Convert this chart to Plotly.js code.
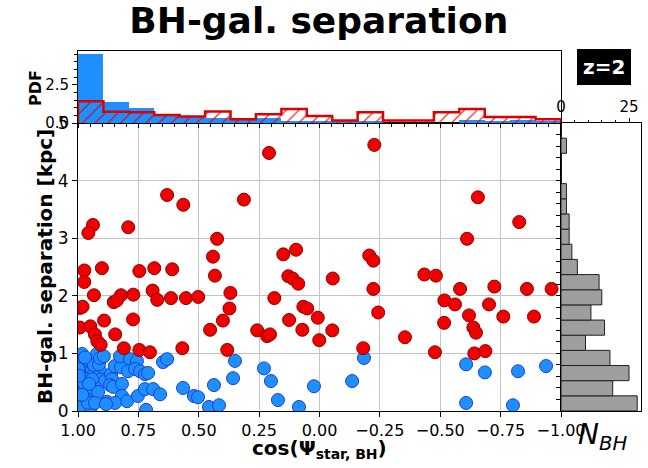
<!DOCTYPE html>
<html>
<head>
<meta charset="utf-8">
<script src="https://cdn.plot.ly/plotly-3.0.1.min.js"></script>
<style>html,body{margin:0;padding:0;background:#fff;}#chart{width:648px;height:468px;}</style>
</head>
<body>
<div id="chart"></div>
<script>
// ---- scatter data: cos(Psi) and BH-galaxy separation [kpc] ----
const redCos = [0.209,-0.227,0.631,0.564,0.313,-0.656,-0.827,0.938,0.957,0.792,0.424,-0.611,0.441,0.150,0.097,-0.206,-0.223,0.974,0.901,0.746,0.684,0.610,0.974,0.433,0.129,0.111,0.088,0.369,0.934,0.822,0.771,0.852,0.839,0.691,0.672,0.615,0.553,0.502,0.187,0.992,0.981,0.373,0.067,0.051,0.892,0.772,0.400,0.126,0.007,0.992,0.949,0.453,0.258,0.071,0.930,0.846,0.920,0.906,0.217,0.205,0.001,0.810,0.746,0.702,0.568,0.382,-0.055,-0.434,-0.482,-0.223,-0.582,-0.724,-0.859,-0.961,-0.517,-0.561,-0.702,-0.243,-0.619,-0.761,-0.888,-0.516,-0.053,-0.637,-0.648,-0.354,-0.181,-0.478,-0.641,-0.687];
const redSep = [4.48,4.62,3.75,3.58,3.67,3.71,3.28,3.23,3.09,3.19,2.99,2.99,2.68,2.72,2.80,2.70,2.61,2.44,2.48,2.43,2.48,2.46,2.24,2.35,2.34,2.30,2.21,2.05,2.01,2.01,2.02,1.89,1.92,2.09,1.93,1.96,1.96,1.98,1.96,1.79,1.81,1.78,1.81,1.78,1.57,1.59,1.57,1.58,1.62,1.45,1.47,1.41,1.40,1.41,1.33,1.33,1.21,1.15,1.30,1.33,1.23,1.09,1.06,1.02,1.09,1.06,2.30,2.37,2.35,2.12,2.12,2.16,2.12,2.12,1.92,1.85,1.85,1.71,1.66,1.64,1.64,1.53,1.40,1.45,1.36,1.28,1.09,1.02,1.00,1.04];
const blueCos = [0.983,0.988,0.963,0.950,0.921,0.983,0.942,0.909,0.938,0.988,0.963,0.905,0.888,0.992,0.963,0.930,0.975,0.950,0.992,0.967,0.979,0.950,0.880,0.992,0.998,0.998,0.975,0.934,0.913,0.959,0.971,0.942,0.917,0.983,0.930,0.909,0.996,0.954,0.863,0.859,0.867,0.855,0.847,0.822,0.893,0.826,0.785,0.756,0.793,0.764,0.743,0.723,0.710,0.818,0.818,0.797,0.847,0.884,0.752,0.723,0.689,0.660,0.718,0.648,0.631,0.565,0.520,0.503,0.458,0.416,0.437,0.358,0.350,0.230,0.201,0.172,0.085,0.023,-0.135,-0.184,-0.607,-0.685,-0.822,-0.938,-0.607,-0.801];
const blueSep = [0.99,0.88,0.81,0.85,0.99,0.69,0.69,0.69,0.62,0.52,0.55,0.55,0.52,0.42,0.40,0.42,0.35,0.26,0.21,0.21,0.09,0.03,0.16,0.07,0.73,0.29,0.48,0.80,0.81,0.14,0.93,0.55,0.33,0.28,0.14,0.92,0.61,0.47,0.64,0.55,0.45,0.42,0.78,0.76,0.95,0.95,0.90,0.87,0.69,0.73,0.69,0.64,0.66,0.47,0.26,0.17,0.14,0.12,0.26,0.38,0.38,0.29,0.02,0.85,0.90,0.40,0.26,0.24,0.07,0.10,0.45,0.57,0.87,0.74,0.52,0.19,0.07,0.43,0.52,0.92,0.81,0.67,0.69,0.78,0.14,0.10];

// ---- top histogram (PDF of cos), 19 bins from 1 to -1 ----
const pdfBlue = [4.52,1.39,1.00,0.45,0.38,0.36,0.24,0.36,0.13,0.13,0.12,0.12,0,0,0,0.22,0.13,0.22,0.13];
const pdfRed  = [1.43,0.74,0.70,0.52,0.43,0.76,0.24,0.57,0.91,0.46,0.17,0.70,0.17,0.17,0.70,0.91,0.39,0.39,0.24];

// ---- right histogram (N_BH per separation bin), 19 bins from 0 to 5 ----
const nBH = [28,19,25,18,9,16,11,15,14,6,4,3,3,2,2,0,0,2,0];

// tick labels
const xTickVals = [1,0.75,0.5,0.25,0,-0.25,-0.5,-0.75,-1];

const nb = pdfBlue.length;
const cw = 2/nb;
const cosCenters = pdfBlue.map((_,i)=> 1 - (i+0.5)*cw);
const sw = 5/nBH.length;
const sepCenters = nBH.map((_,i)=> (i+0.5)*sw);

// red step outline
const stepX = [1], stepY = [0];
pdfRed.forEach((v,i)=>{ stepX.push(1-i*cw, 1-(i+1)*cw); stepY.push(v, v); });
stepX.push(-1); stepY.push(0);

const FONT = 'DejaVu Sans';
const traces = [
  {type:'scatter', mode:'markers', x:blueCos, y:blueSep, xaxis:'x', yaxis:'y',
   marker:{size:13, color:'#1e8fff', line:{color:'#1a3fd6', width:1}}, hoverinfo:'skip'},
  {type:'scatter', mode:'markers', x:redCos, y:redSep, xaxis:'x', yaxis:'y',
   marker:{size:13, color:'#f20000', line:{color:'#8b0000', width:1}}, hoverinfo:'skip'},
  {type:'bar', x:cosCenters, y:pdfBlue, width:cw, xaxis:'x2', yaxis:'y2',
   marker:{color:'#1e8fff', line:{width:0}}, hoverinfo:'skip'},
  {type:'bar', x:cosCenters, y:pdfRed, width:cw, xaxis:'x2', yaxis:'y2',
   marker:{color:'rgba(0,0,0,0)', line:{width:0},
     pattern:{shape:'/', fgcolor:'#e00000', bgcolor:'rgba(0,0,0,0)', size:9, solidity:0.12}}, hoverinfo:'skip'},
  {type:'scatter', mode:'lines', x:stepX, y:stepY, xaxis:'x2', yaxis:'y2',
   line:{color:'#e00000', width:2.5}, hoverinfo:'skip'},
  {type:'bar', orientation:'h', x:nBH, y:sepCenters, width:sw, xaxis:'x3', yaxis:'y3',
   marker:{color:'#9e9e9e', line:{color:'#222', width:1}}, hoverinfo:'skip'}
];

const tickFont = {family:FONT, size:16, color:'black'};
const xMain = [78/648, 561/648];
const yMain = [57/468, 345/468];
const layout = {
  width:648, height:468, margin:{l:0,r:0,t:0,b:0},
  paper_bgcolor:'white', plot_bgcolor:'white', showlegend:false,
  barmode:'overlay', bargap:0,
  title:{text:'<b>BH-gal. separation</b>', font:{family:FONT, size:36, color:'black'},
         x:0.492, xanchor:'center', y:0.957, yanchor:'middle'},
  xaxis:{domain:xMain, anchor:'y', range:[1,-1], tickvals:xTickVals, tickformat:'.2f',
         showline:true, mirror:true, linecolor:'black', linewidth:1, ticks:'outside', ticklen:5,
         tickcolor:'black', showgrid:true, gridcolor:'#c4c4c4', gridwidth:1, zeroline:false,
         tickfont:tickFont},
  yaxis:{domain:yMain, anchor:'x', range:[0,5], dtick:1, showline:true, mirror:true,
         linecolor:'black', linewidth:1, ticks:'outside', ticklen:5, tickcolor:'black',
         showgrid:true, gridcolor:'#c4c4c4', gridwidth:1, zeroline:false,
         tickfont:{family:FONT, size:17, color:'black'}},
  xaxis2:{domain:xMain, anchor:'y2', range:[1,-1], showticklabels:false, tickvals:xTickVals,
          showline:true, mirror:true, linecolor:'black', linewidth:1, ticks:'outside', ticklen:4,
          tickcolor:'black', showgrid:false, zeroline:false,
          minor:{dtick:0.05, ticklen:2.5, ticks:'outside', tickcolor:'black', showgrid:false}},
  yaxis2:{domain:[345/468, 417/468], anchor:'x2', range:[0,4.72], tickvals:[0,2.5],
          ticktext:['0.0','2.5'], showline:true, mirror:true, linecolor:'black', linewidth:1,
          ticks:'outside', ticklen:5, tickcolor:'black', showgrid:false, zeroline:false,
          tickfont:{family:FONT, size:15, color:'black'},
          minor:{dtick:0.5, ticklen:3, ticks:'outside', tickcolor:'black', showgrid:false}},
  xaxis3:{domain:[561/648, 641/648], anchor:'y3', side:'top', range:[0,29.4], dtick:25,
          showline:true, mirror:true, linecolor:'black', linewidth:1, ticks:'outside', ticklen:4,
          tickcolor:'black', showgrid:false, zeroline:false,
          tickfont:{family:FONT, size:15, color:'black'},
          minor:{dtick:5, ticklen:2.5, ticks:'outside', tickcolor:'black', showgrid:false}},
  yaxis3:{domain:yMain, anchor:'x3', range:[0,5], showticklabels:false, dtick:0.2,
          showline:true, mirror:true, linecolor:'black', linewidth:1, ticks:'outside', ticklen:4,
          tickcolor:'black', showgrid:false, zeroline:false},
  annotations:[
    {text:'<b>BH-gal. separation [kpc]</b>', xref:'paper', yref:'paper', x:45/648, y:1-267/468,
     textangle:-90, showarrow:false, font:{family:FONT, size:20, color:'black'}, xanchor:'center', yanchor:'middle'},
    {text:'<b>PDF</b>', xref:'paper', yref:'paper', x:35/648, y:1-88/468,
     textangle:-90, showarrow:false, font:{family:FONT, size:16, color:'black'}, xanchor:'center', yanchor:'middle'},
    {text:'<b>cos(Ψ<sub>star, BH</sub>)</b>', xref:'paper', yref:'paper', x:319/648, y:1-449/468,
     showarrow:false, font:{family:FONT, size:20, color:'black'}, xanchor:'center', yanchor:'middle'},
    {text:'<i>N<sub>BH</sub></i>', xref:'paper', yref:'paper', x:602/648, y:1-436/468,
     showarrow:false, font:{family:FONT, size:28, color:'black'}, xanchor:'center', yanchor:'middle'},
    {text:'<b>z=2</b>', xref:'paper', yref:'paper', x:604/648, y:1-67/468,
     showarrow:false, font:{family:FONT, size:20, color:'white'}, bgcolor:'black',
     bordercolor:'black', borderwidth:1, borderpad:5, xanchor:'center', yanchor:'middle'}
  ]
};
Plotly.newPlot('chart', traces, layout, {staticPlot:true, displayModeBar:false});
</script>
</body>
</html>
